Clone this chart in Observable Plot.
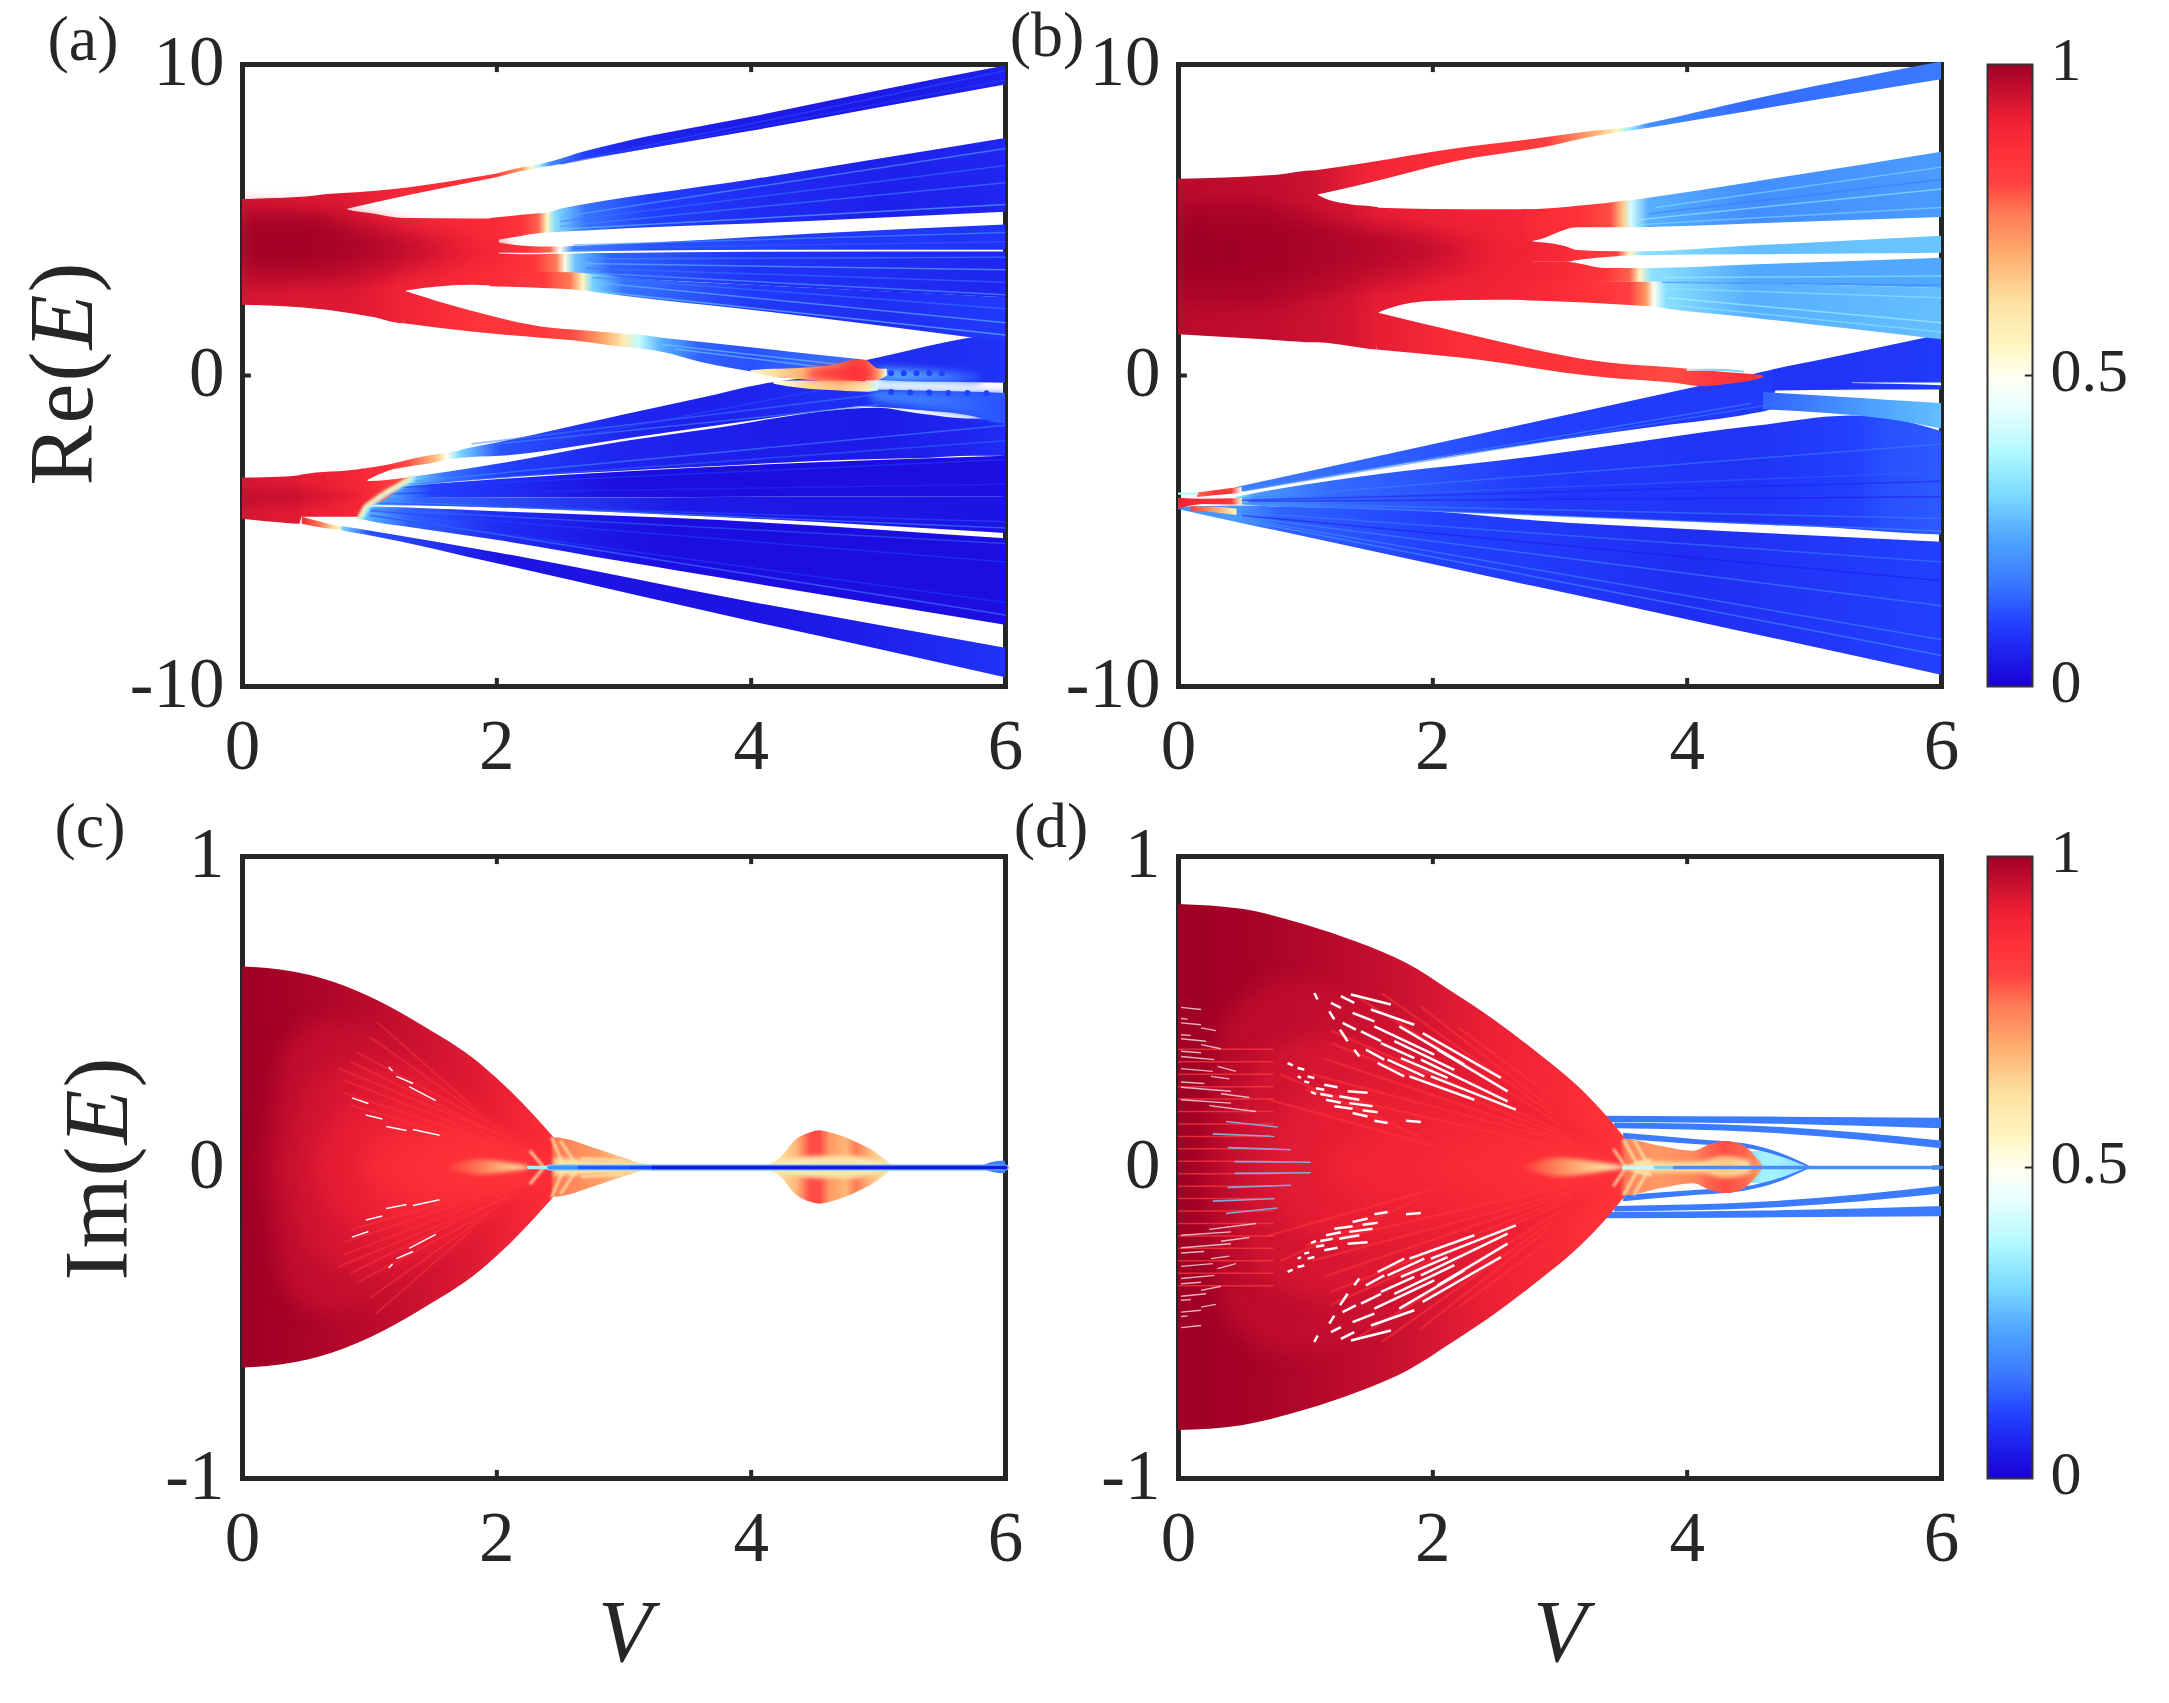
<!DOCTYPE html>
<html lang="en">
<head>
<meta charset="UTF-8">
<title>Re(E) and Im(E) against V</title>
<script src="https://cdn.jsdelivr.net/npm/d3@7"></script>
<script src="https://cdn.jsdelivr.net/npm/@observablehq/plot@0.6"></script>
<style>
  html, body { margin: 0; background: #fff; }
  #chart { position: relative; width: 2169px; height: 1703px; overflow: hidden; font-family: "Liberation Serif", serif; color: #262626; }
  #chart svg { position: absolute; background: transparent; overflow: visible; }
  #chart svg text { font-family: "Liberation Serif", serif !important; }
  .txt { position: absolute; white-space: nowrap; line-height: 1; transform: translate(-50%, -50%); }
  .rot { transform: translate(-50%, -50%) rotate(-90deg); letter-spacing: 2px; }
</style>
</head>
<body>
<div id="chart"></div>
<script>
// colour scale
const cbStops = [0, 0.1, 0.165, 0.235, 0.305, 0.375, 0.445, 0.5, 0.55, 0.62, 0.69, 0.76, 0.81, 0.86, 0.91, 0.955, 1];
const cbColors = ["#1a00d8", "#2240ff", "#3a78ff", "#4ea4ff", "#7ad8ff", "#b0f8ff", "#e8ffff", "#fffff0", "#fff5c0", "#fde0a0", "#ffb070", "#ff7a55", "#ff4040", "#ff3038", "#ee2035", "#c81030", "#a00025"];
const cbTicks = [0, 0.5, 1];
const xTicks = [0, 2, 4, 6];
const reTicks = [-10, 0, 10];
const imTicks = [-1, 0, 1];

// band rows are [V, lower E, upper E, colour value]
// panel (a), Re(E)
const aCore = [[0,2.26,5.66,.94],[.5,2.16,5.74,.93],[.8,2.02,5.85,.93],[.83,2.0,5.32,.93],[1.02,1.87,5.2,.92],[1.27,1.66,5.05,.9],[1.29,2.72,5.05,.9],[1.82,2.9,5.03,.88],[2.02,2.85,5.05,.87]];
const aTop = [[.8,5.32,5.85,.93],[1.3,5.78,6.03,.88],[1.8,6.2,6.34,.86],[2.0,6.36,6.48,.82],[2.2,6.56,6.68,.72],[2.27,6.6,6.72,.55],[2.33,6.66,6.78,.38],[2.42,6.72,6.86,.2],[2.7,6.95,7.2,.1],[3,7.15,7.5,.06],[4,7.85,8.3,.04],[5,8.6,9.15,.04],[6,9.34,9.95,.05]];
const aSub1 = [[1.95,4.3,5.05,.88],[2.2,4.48,5.15,.85],[2.33,4.56,5.2,.78],[2.4,4.58,5.22,.55],[2.46,4.6,5.3,.32],[2.7,4.65,5.5,.16],[3.2,4.75,5.82,.1],[4,4.87,6.29,.07],[5,5.06,6.95,.05],[6,5.25,7.62,.06]];
const aSub2 = [[1.95,3.95,4.31,.88],[2.24,3.93,4.15,.85],[2.42,3.94,4.13,.78],[2.5,3.95,4.13,.5],[2.6,3.96,4.15,.2],[3.2,4.0,4.25,.12],[4.5,4.03,4.55,.09],[6,4.03,4.84,.08]];
const aSub3a = [[1.95,3.3,3.9,.88],[2.3,3.3,3.88,.84],[2.47,3.3,3.9,.76],[2.54,3.28,3.9,.52],[2.62,3.25,3.91,.28],[2.9,3.15,3.92,.14],[4,2.9,3.96,.08],[6,2.5,3.97,.06]];
const aSub3b = [[1.95,2.85,3.32,.88],[2.37,2.8,3.32,.83],[2.58,2.76,3.3,.76],[2.68,2.72,3.28,.55],[2.76,2.68,3.26,.3],[3,2.55,3.15,.16],[4,2.1,2.9,.09],[5,1.6,2.7,.07],[6,1.07,2.5,.09]];
const aLow = [[1.27,1.66,2.72,.9],[1.82,1.39,2.05,.85],[2.35,1.2,1.56,.84],[2.6,1.12,1.46,.8],[2.85,.98,1.38,.7],[3.0,.9,1.33,.58],[3.12,.85,1.3,.4],[3.3,.75,1.2,.25],[3.6,.43,1.07,.14],[4,.12,.89,.12],[4.31,-.1,.75,.14],[4.9,-.1,.49,.16]];
const aLowerFanTop = [[.97,-3.41,-3,.88],[1.16,-3.06,-2.87,.86],[1.3,-2.95,-2.73,.8],[1.53,-2.8,-2.55,.66],[1.61,-2.72,-2.51,.5],[1.72,-2.66,-2.4,.3],[2.03,-2.6,-2.15,.12],[3,-2.05,-1.27,.06],[3.6,-1.7,-.74,.05],[4.15,-1.38,-.25,.06],[4.5,-1.18,-.1,.07],[4.9,-.98,-.1,.07]];
const aLowerFanRight = [[4.85,-1,-.46,.07],[5.3,-1.12,-.5,.1],[5.75,-1.33,-.54,.12],[5.9,-1.5,-.56,.13],[6,-1.55,-.58,.13]];
const aUpperRight = [[4.91,-.12,.48,.08],[5.2,-.2,.75,.07],[5.55,-.22,1.07,.07],[6,-.25,1.39,.08]];
const aMainA = [[1.0,-3.95,-3.6,.3],[1.32,-3.6,-3.29,.3],[1.6,-3.45,-3.12,.16],[2.03,-3.3,-2.84,.1],[2.88,-3.1,-2.21,.06],[3.6,-2.95,-1.78,.05],[5,-2.7,-1.05,.04],[5.3,-2.68,-1.22,.05],[5.75,-2.6,-1.4,.06],[6,-2.6,-1.4,.07]];
const aMainB = [[.95,-4.0,-3.65,.28],[1.2,-3.98,-3.6,.22],[1.5,-3.95,-3.5,.1],[3,-3.93,-3.1,.02],[6,-3.9,-2.6,.02]];
const aMainC = [[.92,-4.18,-3.95,.28],[1.4,-4.2,-3.95,.14],[3.41,-4.5,-3.93,.04],[6,-5.08,-3.9,.03]];
const aBand1 = [[.9,-4.59,-4.22,.3],[1.03,-4.72,-4.23,.24],[1.3,-4.88,-4.26,.14],[2,-5.3,-4.38,.07],[3,-6.0,-4.53,.03],[3.41,-6.28,-4.6,.02],[6,-8.03,-5.25,.02]];
const aBand2 = [[.47,-4.78,-4.56,.88],[.62,-4.9,-4.72,.76],[.72,-4.96,-4.82,.62],[.77,-4.98,-4.85,.55],[.79,-5,-4.86,.3],[1,-5.15,-5.0,.12],[2.03,-6.08,-5.72,.03],[4,-7.91,-7.29,.03],[5,-8.8,-8.03,.05],[6,-9.72,-8.77,.08]];
const aLowBlob = [[0,-4.62,-3.3,.94],[.24,-4.72,-3.28,.93],[.45,-4.78,-3.22,.93],[.47,-4.56,-3.2,.92],[.92,-4.56,-3.03,.89],[.97,-4.2,-3,.88],[.99,-4.2,-3.41,.88],[1.32,-3.3,-3.29,.8]];
const aFront = [[.92,-4.55],[.97,-4.2],[1.04,-4.0],[1.13,-3.75],[1.22,-3.55],[1.32,-3.3]];
const aFrontOuter = [[.94,-4.55],[.99,-4.2],[1.06,-4.0],[1.15,-3.75],[1.24,-3.55],[1.34,-3.3]];
const aDiamond = [[4.0,.12,.16,.55],[4.18,-.06,.2,.62],[4.29,-.1,.21,.66],[4.65,-.2,.32,.74],[4.81,-.2,.48,.81],[4.9,-.18,.48,.8],[5.0,-.16,.21,.72],[5.07,-.02,.2,.5]];
const aDiamondLow = [[4.18,-.28,-.18,.5],[4.4,-.42,-.18,.62],[4.7,-.5,-.18,.66],[4.91,-.54,-.2,.6],[5.0,-.5,-.3,.4]];
const aPatchUp = [[5,-.18,.2,.24],[5.2,-.2,.18,.26],[5.5,-.2,.1,.22],[5.8,-.22,.02,.12]];
const aPatchLow = [[4.95,-.8,-.5,.2],[5.4,-1.05,-.56,.17],[6,-1.45,-.62,.12]];
const aSoftTop1 = [[0,2.9,5.4,.97],[.6,2.9,5.3,.97],[1.2,3.2,4.8,.95],[1.8,3.6,4.4,.91],[2.1,3.9,4.1,.89]];
const aSoftTop2 = [[0,3.5,5,.995],[.5,3.5,5,.995],[.9,3.6,4.6,.985],[1.4,3.9,4.2,.96],[1.7,4.05,4.08,.94]];
const aSoftLow = [[0,-4.2,-3.7,.96],[.4,-4.15,-3.7,.955],[.8,-4,-3.75,.93],[1,-3.9,-3.82,.9]];
const aSoftCore = [[4.45,-.08,.14,.84],[4.7,-.12,.25,.87],[4.95,-.1,.2,.85]];
const aRays = [[2.5,5.1,6,7.3,.25],[2.5,4.95,6,6.75,.16],[2.5,4.8,6,6.2,.2],[2.5,4.7,6,5.5,.28],[2.7,3.6,6,3.4,.28],[2.7,3.45,6,3,.16],[2.7,3.3,6,2.6,.25],[2.75,3.15,6,2.15,.17],[2.75,3,6,1.7,.28],[2.8,2.7,6,1.3,.3],[2.7,3.75,6,3.8,.2],[2.6,4.2,6,4.6,.22],[2.6,4.08,6,4.3,.14],[2.5,6.82,6,9.8,.12],[2.5,6.8,6,9.5,.1],[1.35,-3.4,6,-1.6,.2],[1.3,-3.5,6,-2.1,.15],[1.2,-3.6,6,-2.7,.1],[1.1,-3.8,6,-3.5,.08],[1.05,-4.05,6,-4.9,.2],[1.05,-4.1,6,-4.7,.12],[1,-4.3,6,-5.4,.15],[1,-4.35,6,-6,.1],[1,-4.45,6,-7.7,.2],[1,-4.5,6,-7.3,.1],[1.8,-2.2,5,-.6,.18],[2,-2.2,5,-.95,.2],[2.2,-2.3,4.7,-.35,.12],[3.4,.85,4.7,.2,.3],[3.3,1,4.7,.35,.3]];
const aDots = [[5.1,.07],[5.2,.07],[5.3,.07],[5.4,.08],[5.5,.07],[5.1,-.53],[5.25,-.55],[5.4,-.55],[5.55,-.56],[5.7,-.56],[5.85,-.57]];

// panel (b), Re(E)
const bCore = [[0,1.31,6.31,.97],[.78,1.12,6.44,.96],[1.08,1.05,6.58,.95],[1.1,1.05,5.79,.95],[1.35,.93,5.49,.94],[1.56,.82,5.4,.92],[1.58,2.02,5.38,.92],[1.99,2.38,5.34,.91],[2.5,2.42,5.33,.9],[2.79,2.41,5.33,.89]];
const bTop = [[1.08,5.79,6.58,.95],[1.47,6.15,6.82,.9],[2.2,6.89,7.3,.86],[2.9,7.35,7.65,.82],[3.3,7.7,7.87,.68],[3.45,7.8,7.93,.55],[3.55,7.85,7.97,.35],[3.7,7.95,8.1,.2],[4.5,8.5,8.85,.15],[6,9.51,10.08,.17]];
const bSub1 = [[2.7,4.31,5.33,.9],[2.77,4.31,5.33,.88],[3.14,4.75,5.44,.86],[3.4,4.75,5.55,.8],[3.5,4.75,5.6,.65],[3.56,4.75,5.62,.42],[3.7,4.76,5.7,.25],[4.5,4.87,6.2,.2],[6,5.08,7.18,.22]];
const bSub2 = [[2.7,3.64,4.31,.9],[3.04,3.64,4.15,.88],[3.14,3.7,4.02,.86],[3.45,3.82,3.98,.82],[3.55,3.84,3.98,.55],[3.66,3.85,3.98,.33],[4.5,3.88,4.16,.27],[6,3.93,4.48,.28]];
const bSub3a = [[2.7,3,3.64,.9],[3.04,3,3.64,.88],[3.37,3,3.44,.84],[3.55,3,3.44,.78],[3.63,3,3.44,.55],[3.72,3,3.44,.33],[4.5,2.95,3.55,.24],[6,2.8,3.77,.24]];
const bSub3b = [[2.7,2.41,3.02,.89],[3.2,2.33,3.02,.86],[3.55,2.25,3,.82],[3.68,2.22,3,.72],[3.74,2.2,3,.5],[3.84,2.14,3,.32],[4.5,1.85,2.95,.25],[6,1.15,2.8,.27]];
const bLow = [[1.56,.82,2.02,.92],[2.2,.57,1.39,.87],[3.37,-.08,.41,.84],[3.9,-.25,.24,.8],[4.12,-.36,.16,.82],[4.3,-.3,.1,.84],[4.52,-.16,.03,.86],[4.6,-.08,-.02,.82]];
const bLowStreak = [[4.0,.14,.2,.4],[4.2,.14,.2,.3],[4.45,.08,.14,.3]];
const bFanUp = [[.45,-3.77,-3.61,.18],[2.79,-2.2,-1.52,.1],[3.8,-1.63,-.62,.09],[4.52,-1.23,.03,.09],[4.66,-1.1,.16,.09],[4.7,-.5,.2,.08],[5,-.48,.45,.08],[6,-.47,1.31,.09]];
const bWhite = [[5.3,-.26,-.24,.47],[5.7,-.29,-.24,.47],[6,-.33,-.24,.47]];
const bFanDiag = [[4.6,-1.1,-.55,.14],[5.2,-1.25,-.7,.2],[5.6,-1.42,-.8,.24],[6,-1.72,-.9,.27]];
const bMain = [[.45,-4.15,-3.92,.35],[.6,-4.2,-3.8,.22],[1.2,-4.28,-3.4,.15],[2.79,-4.5,-2.62,.09],[4.52,-4.8,-1.64,.08],[5.3,-4.95,-1.3,.1],[5.6,-5.05,-1.4,.12],[6,-5.13,-1.8,.13]];
const bBottom = [[0,-4.31,-4.24,.2],[.45,-4.72,-4.2,.22],[.8,-5.02,-4.23,.14],[2,-6.08,-4.38,.1],[2.79,-6.78,-4.67,.09],[4,-7.85,-4.95,.07],[6,-9.64,-5.36,.1]];
const bRedMain = [[0,-4.3,-3.95,.9],[.2,-4.15,-3.98,.88],[.42,-4.16,-3.96,.84],[.5,-4.16,-3.96,.55]];
const bRedTop = [[.15,-3.92,-3.78,.78],[.3,-3.86,-3.7,.85],[.42,-3.82,-3.63,.82],[.5,-3.78,-3.6,.5]];
const bRedLow = [[.1,-4.36,-4.22,.82],[.3,-4.42,-4.24,.7],[.46,-4.5,-4.3,.55]];
const bCyanTip = [[0,-3.85,-3.78,.38],[.16,-3.85,-3.78,.38]];
const bSoftTop1 = [[0,2.2,5.6,.985],[.6,2.2,5.6,.985],[1.2,2.6,5,.97],[2,3.1,4.6,.94],[2.5,3.4,4.4,.91],[2.8,3.85,3.95,.9]];
const bSoftTop2 = [[0,3,5,1],[.8,3.1,4.9,.995],[1.4,3.4,4.6,.98],[2,3.7,4.3,.96],[2.3,3.95,4.05,.94]];
const bRays = [[3.75,5.4,6,6.7,.33],[3.7,5.2,6,6.3,.16],[3.6,5.0,6,6,.36],[3.6,4.85,6,5.4,.32],[3.8,3.15,6,3.2,.36],[3.8,3,6,2.9,.17],[3.8,2.8,6,2.5,.34],[3.85,2.5,6,1.7,.38],[3.8,2.3,6,1.4,.34],[.5,-3.95,6,-2.2,.18],[.5,-4,6,-3.1,.14],[.55,-4.05,6,-3.9,.04],[.5,-4.02,6,-3.4,.05],[.5,-4.1,6,-4.6,.18],[.5,-4.12,6,-5,.2],[.5,-4.4,6,-6,.18],[.5,-4.5,6,-6.6,.04],[.5,-4.55,6,-7.4,.2],[.5,-4.6,6,-8.5,.2],[.5,-4.65,6,-9,.22],[.5,-3.7,4.5,-.9,.2],[.5,-3.72,5,-.7,.17]];

// panels (c) and (d), Im(E), rows are [V, E, colour value] and mirrored about E = 0
const cEnvelope = [[0,.645,1],[.3,.635,.995],[.6,.61,.985],[1.02,.545,.97],[1.4,.46,.95],[1.87,.333,.925],[2.13,.236,.9],[2.45,.096,.86]];
const cTail = [[2.43,.096,.84],[2.45,.096,.76],[2.79,.059,.72],[3.0,.03,.66],[3.18,.008,.58],[3.25,.002,.54]];
const cBump = [[4.1,.002,.58],[4.23,.03,.62],[4.36,.091,.68],[4.47,.112,.8],[4.54,.118,.8],[4.62,.112,.72],[4.75,.095,.68],[4.83,.08,.76],[4.96,.053,.66],[5.12,.003,.55]];
const cEnd = [[5.8,.002,.17],[5.9,.016,.17],[5.97,.02,.18],[6,.02,.18]];
const cSoft1 = [[.18,0,.965],[.35,.4,.965],[.7,.47,.96],[1.1,.42,.95],[1.6,.28,.925],[2,.16,.9],[2.35,.04,.87]];
const cSoft2 = [[.35,0,.945],[.55,.28,.945],[.9,.33,.935],[1.3,.3,.92],[1.7,.2,.9],[2.1,.1,.88],[2.35,.03,.86]];
const cSoft3 = [[.55,0,.925],[.8,.18,.92],[1.2,.2,.9],[1.6,.15,.88],[2,.09,.865],[2.35,.03,.85]];
const cSoft4 = [[.9,0,.89],[1.15,.09,.88],[1.5,.1,.865],[1.9,.07,.855],[2.3,.025,.84]];
const cWedge = [[1.6,.002,.84],[1.87,.024,.76],[2.1,.014,.66],[2.25,.004,.58]];
const cSoftTail = [[2.45,.03,.62],[2.7,.022,.6],[3.1,.006,.56]];
const cSoftBump = [[4.15,.008,.58],[4.3,.025,.58],[4.55,.035,.6],[4.8,.035,.6],[5.05,.008,.56]];
const cLine = [[2.25,.36],[2.41,.2],[2.65,.12],[3.05,.1],[3.23,.03],[4.5,.03],[6,.03]];
const cHalo = [[2.41,.28],[3.23,.25],[6,.22]];
// links are [V1, E1, V2, E2]
const cSpecks = [[1.21,.293,1.34,.27],[1.31,.26,1.52,.215],[1.15,.323,1.18,.31],[.86,.224,.99,.206],[.97,.169,1.1,.156],[1.13,.132,1.29,.119],[1.34,.122,1.55,.104]];
const cStripes = [[.8,.28,2.2,.06],[.8,.24,2.2,.05],[.85,.2,2.2,.04],[.75,.32,2.2,.075],[.85,.34,2.1,.09],[.9,.37,2.0,.13],[1,.42,1.9,.16],[1.05,.47,1.8,.2]];
const cCross = [[2.37,0,2.26,.054],[2.53,0,2.43,.097],[2.63,.005,2.5,.086],[2.43,.0,2.63,.02],[2.66,.012,3.18,.006],[2.66,.03,3.0,.022]];

const dEnvelope = [[0,.846,1],[.5,.83,.995],[1.0,.78,.98],[1.4,.725,.965],[1.8,.655,.95],[2.15,.565,.93],[2.48,.475,.91],[2.85,.36,.89],[3.16,.254,.87],[3.4,.15,.85],[3.52,.09,.82]];
const dTail = [[3.48,.09,.8],[3.52,.09,.74],[3.79,.068,.72],[4.05,.052,.74],[4.18,.073,.78],[4.3,.084,.8],[4.45,.068,.78],[4.6,.003,.7]];
const dTip = [[4.5,.05,.32],[4.6,.052,.36],[4.7,.045,.36],[4.85,.02,.34],[4.96,.002,.3]];
const dRing1 = [[3.37,.145,.165,.17],[4.6,.14,.162,.17],[6,.125,.158,.17]];
const dRing2 = [[3.43,.125,.143,.17],[4.58,.112,.132,.17],[5.37,.088,.11,.17],[6,.06,.085,.17]];
const dRing3 = [[3.5,.09,.11,.17],[4.06,.074,.09,.17],[4.45,.063,.076,.17],[4.71,.038,.049,.17],[4.96,.0,.005,.17]];
const dSoft1 = [[.2,0,.97],[.4,.5,.97],[.9,.6,.965],[1.5,.52,.95],[2.2,.34,.925],[2.8,.18,.9],[3.4,.03,.87]];
const dSoft2 = [[.4,0,.95],[.65,.35,.945],[1.1,.42,.94],[1.7,.36,.925],[2.3,.24,.91],[2.9,.12,.885],[3.4,.03,.865]];
const dSoft3 = [[.65,0,.93],[.9,.2,.925],[1.4,.24,.915],[2,.2,.905],[2.6,.13,.88],[3.1,.07,.865],[3.45,.02,.85]];
const dSoft4 = [[1.1,0,.905],[1.5,.1,.9],[2.1,.12,.89],[2.7,.08,.87],[3.1,.05,.86],[3.45,.02,.84]];
const dSoft5 = [[1.9,0,.88],[2.4,.05,.875],[2.9,.05,.86],[3.4,.02,.84]];
const dWedge = [[2.7,.002,.84],[3.0,.03,.74],[3.3,.016,.64],[3.5,.004,.56]];
const dSoftTail = [[3.6,.02,.6],[3.9,.016,.62],[4.1,.018,.62],[4.3,.035,.66],[4.5,.02,.62]];
const dLine = [[3.5,.4],[3.75,.3],[3.9,.2],[6,.16]];
const dWhite = [[1.815,.293,2.326,.218],[1.566,.336,1.775,.293],[1.749,.352,2.116,.288],[1.906,.347,2.588,.213],[1.985,.293,2.653,.186],[1.474,.379,1.618,.347],[1.644,.347,1.933,.293],[1.592,.4,1.854,.352],[1.697,.406,2.169,.314],[1.54,.454,2.011,.363],[1.435,.438,1.592,.406],[1.736,.454,2.247,.331],[1.369,.497,1.54,.47],[1.513,.508,1.854,.459],[1.29,.465,1.395,.443],[1.382,.379,1.422,.357],[1.27,.443,1.33,.406],[1.186,.502,1.225,.476],[1.068,.561,1.094,.54],[1.199,.529,1.277,.513],[1.277,.551,1.382,.529],[1.356,.556,1.67,.524],[1.92,.432,2.535,.288],[2.037,.379,2.588,.245],[1.225,.197,1.369,.189],[1.16,.218,1.277,.208],[1.369,.175,1.487,.164],[1.115,.236,1.212,.229],[1.042,.243,1.081,.236],[1.081,.255,1.146,.25],[1.146,.266,1.251,.258],[1.264,.229,1.422,.218],[1.343,.207,1.526,.197],[.989,.277,1.028,.273],[.937,.293,.963,.288],[1.015,.293,1.068,.288],[.858,.336,.898,.328],[.937,.32,.989,.315],[1.54,.15,1.644,.143],[1.789,.15,1.906,.146],[1.448,.184,1.566,.178],[1.33,.245,1.487,.24]];
const dLeft = [[.02,.218,.413,.207],[.02,.258,.413,.245],[.02,.275,.203,.27],[.02,.318,.269,.309],[.02,.357,.282,.347],[.02,.374,.177,.369],[.02,.414,.216,.406],[.02,.427,.098,.425],[.02,.465,.177,.459],[.02,.479,.072,.477],[.02,.515,.177,.508],[.242,.199,.609,.18],[.334,.237,.557,.225],[.177,.395,.334,.382],[.177,.449,.295,.44],[.255,.293,.4,.285],[.308,.325,.452,.309]];
const dBlueish = [[.373,.148,.78,.13],[.269,.108,.754,.1],[.387,.064,.884,.057],[.439,.019,1.04,.017]];
const dStripes = [[1.2,.44,3.1,.1],[1.2,.4,3.1,.09],[1.15,.35,3.1,.08],[1.05,.3,3.15,.07],[1,.25,3.1,.055],[1.4,.55,3,.14],[1.6,.56,2.95,.17],[1.9,.52,2.9,.2],[2.2,.45,2.9,.24],[.7,.22,2,.07],[.8,.3,1.9,.1]];
const dRows = [.02,.06,.1,.14,.18,.22,.26,.3,.34,.38];
const dCross = [[3.52,0,3.42,.06],[3.62,0,3.5,.09],[3.7,.005,3.58,.09],[3.5,0,3.72,.025]];

const color = d3.scaleLinear().domain(cbStops).range(cbColors);
const chart = document.getElementById("chart");
const F = "Liberation Serif";
const INK = "#262626";
let gid = 0;

const sym = (rows) => rows.map(([v, e, c]) => [v, -e, e, c]);
const mirror = (links) => links.flatMap(([a, b, c, d]) => [[a, b, c, d], [a, -b, c, -d]]);
const flip = (rows) => rows.map(([v, a, b, c]) => [v, -b, -a, c]);

// one area per band, its colour carried by a horizontal gradient through the colour values of its rows
function bands(list, blur) {
  return list.flatMap((rows) => {
    const id = `g${gid++}`;
    const v0 = rows[0][0], v1 = rows[rows.length - 1][0];
    const defs = d3.create("svg:defs");
    const g = defs.append("linearGradient").attr("id", id).attr("x1", 0).attr("x2", 1).attr("y1", 0).attr("y2", 0);
    rows.forEach((r) => g.append("stop").attr("offset", (r[0] - v0) / (v1 - v0)).attr("stop-color", color(r[3])));
    return [() => defs.node(), Plot.areaY(rows, {
      x: (d) => d[0], y1: (d) => d[1], y2: (d) => d[2], fill: `url(#${id})`, curve: "monotone-x",
      clip: blur ? "frame" : undefined,
      imageFilter: blur ? `blur(${blur}px)` : undefined
    })];
  });
}

function links(rows, stroke, strokeWidth, opts = {}) {
  return Plot.link(rows, {x1: (d) => d[0], y1: (d) => d[1], x2: (d) => d[2], y2: (d) => d[3], stroke, strokeWidth, ...opts});
}

function panel(left, top, yTicks, marks) {
  const ymax = yTicks[yTicks.length - 1];
  const tick = ymax * 0.026;
  const svg = Plot.plot({
    width: 763 + 200 + 40, height: 622 + 140,
    marginLeft: 200, marginRight: 40, marginTop: 20, marginBottom: 120,
    x: {domain: [0, 6]}, y: {domain: [-ymax, ymax]},
    style: {fontFamily: F, background: "transparent", overflow: "visible"},
    marks: [
      Plot.frame({stroke: INK, strokeWidth: 5}),
      Plot.ruleX(xTicks, {y1: -ymax, y2: -ymax + tick, stroke: INK, strokeWidth: 4}),
      Plot.ruleX(xTicks, {y1: ymax, y2: ymax - tick, stroke: INK, strokeWidth: 4}),
      Plot.ruleY(yTicks, {x1: 0, x2: 0.07, stroke: INK, strokeWidth: 4}),
      Plot.ruleY(yTicks, {x1: 5.93, x2: 6, stroke: INK, strokeWidth: 4}),
      Plot.axisX({ticks: xTicks, tickSize: 0, tickPadding: 32, fontSize: 71, label: null, tickFormat: (d) => String(d), fill: INK, fontVariant: "normal"}),
      Plot.axisY({ticks: yTicks, tickSize: 0, tickPadding: 18, dy: -2, fontSize: 71, label: null, tickFormat: (d) => String(d), fill: INK, fontVariant: "normal"}),
      ...marks
    ]
  });
  svg.style.left = `${left - 200}px`;
  svg.style.top = `${top - 20}px`;
  chart.append(svg);
}

function colorbar(top) {
  const id = `g${gid++}`;
  const defs = d3.create("svg:defs");
  const g = defs.append("linearGradient").attr("id", id).attr("x1", 0).attr("x2", 0).attr("y1", 1).attr("y2", 0);
  cbStops.forEach((s, i) => g.append("stop").attr("offset", s).attr("stop-color", cbColors[i]));
  const svg = Plot.plot({
    width: 45 + 10 + 140, height: 622 + 40,
    marginLeft: 10, marginRight: 140, marginTop: 20, marginBottom: 20,
    x: {domain: [0, 1], axis: null}, y: {domain: [0, 1]},
    style: {fontFamily: F, background: "transparent", overflow: "visible"},
    marks: [
      () => defs.node(),
      Plot.areaY([0, 1], {x: (d) => d, y1: () => 0, y2: () => 1, fill: `url(#${id})`}),
      Plot.frame({stroke: "#333", strokeWidth: 2}),
      Plot.ruleY([0.5], {x1: 0.84, x2: 1, stroke: INK, strokeWidth: 2}),
      Plot.axisY({anchor: "right", ticks: cbTicks, tickSize: 0, tickPadding: 18, dy: -4, fontSize: 62, label: null, tickFormat: (d) => String(d), fill: INK, fontVariant: "normal"})
    ]
  });
  svg.style.left = `${1987 - 10}px`;
  svg.style.top = `${top - 20}px`;
  chart.append(svg);
}

function label(html, x, y, size, cls = "") {
  const el = document.createElement("div");
  el.className = `txt ${cls}`;
  el.style.left = `${x}px`;
  el.style.top = `${y}px`;
  el.style.fontSize = `${size}px`;
  el.innerHTML = html;
  chart.append(el);
}

panel(242, 64, reTicks, [
  ...bands([aMainA, aMainB, aMainC, aBand1, aBand2, aLowerFanTop, aLowerFanRight, aUpperRight, aLowBlob, aCore, aTop, aSub1, aSub2, aSub3a, aSub3b, aLow]),
  ...bands([aPatchUp, aPatchLow], 4),
  links(aRays, (d) => color(d[4]), 1.5, {strokeOpacity: 0.55}),
  Plot.line(aFrontOuter, {x: (d) => d[0], y: (d) => d[1], stroke: color(0.36), strokeWidth: 5, imageFilter: "blur(1.5px)"}),
  Plot.line(aFront, {x: (d) => d[0], y: (d) => d[1], stroke: color(0.58), strokeWidth: 4, imageFilter: "blur(1.5px)"}),
  Plot.dot(aDots, {x: (d) => d[0], y: (d) => d[1], r: 3, fill: color(0.1)}),
  ...bands([aDiamond, aDiamondLow]),
  ...bands([aSoftTop1, aSoftTop2], 8),
  ...bands([aSoftLow, aSoftCore], 4)
]);

panel(1177.5, 64, reTicks, [
  ...bands([bBottom, bMain, bFanUp, bWhite, bFanDiag, bCore, bTop, bSub1, bSub2, bSub3a, bSub3b, bLow, bLowStreak, bRedMain, bRedTop, bRedLow, bCyanTip]),
  links(bRays, (d) => color(d[4]), 1.5, {strokeOpacity: 0.55}),
  ...bands([bSoftTop1, bSoftTop2], 8)
]);

panel(242, 856, imTicks, [
  ...bands([cEnvelope, cTail, cBump, cEnd].map(sym)),
  ...bands([cSoft1, cSoft2, cSoft3, cSoft4].map(sym), 10),
  ...bands([cWedge, cSoftTail, cSoftBump].map(sym), 2),
  links(mirror(cStripes), color(0.84), 2, {strokeOpacity: 0.45, imageFilter: "blur(0.7px)"}),
  links(mirror(cCross), color(0.6), 3, {strokeOpacity: 0.8, imageFilter: "blur(1.2px)"}),
  links(mirror(cSpecks), "#fff", 1.5),
  Plot.line(cHalo, {x: (d) => d[0], y: 0, z: null, stroke: (d) => color(d[1]), strokeWidth: 6}),
  Plot.line(cLine, {x: (d) => d[0], y: 0, z: null, stroke: (d) => color(d[1]), strokeWidth: 3.5})
]);

panel(1177.5, 856, imTicks, [
  ...bands([dTip].map(sym)),
  ...bands([dRing1, dRing2, dRing3, flip(dRing1), flip(dRing2), flip(dRing3)]),
  ...bands([dEnvelope, dTail].map(sym)),
  ...bands([dSoft1, dSoft2, dSoft3, dSoft4, dSoft5].map(sym), 10),
  ...bands([dWedge, dSoftTail].map(sym), 2),
  links(mirror(dStripes), color(0.85), 2.5, {strokeOpacity: 0.5, imageFilter: "blur(0.7px)"}),
  Plot.ruleY(dRows.flatMap((e) => [e, -e]), {x1: 0, x2: 0.75, stroke: color(0.82), strokeWidth: 1.5, strokeOpacity: 0.7}),
  links(mirror(dCross), color(0.6), 3, {strokeOpacity: 0.8, imageFilter: "blur(1.2px)"}),
  links(mirror(dWhite), "#fff", 2.5),
  links(mirror(dLeft), "#fff", 1.4, {strokeOpacity: 0.7}),
  links(mirror(dBlueish), "#8fa4d8", 1.6),
  Plot.line(dLine, {x: (d) => d[0], y: 0, z: null, stroke: (d) => color(d[1]), strokeWidth: 3.5})
]);

colorbar(64);
colorbar(856);

label("(a)", 83, 39, 64);
label("(b)", 1047, 35, 64);
label("(c)", 90, 826, 64);
label("(d)", 1051, 826, 64);
label("Re(<i>E</i>)", 62, 373, 90, "rot");
label("Im(<i>E</i>)", 97, 1168, 90, "rot");
label("<i>V</i>", 625, 1632, 88);
label("<i>V</i>", 1560, 1632, 88);
</script>
</body>
</html>
